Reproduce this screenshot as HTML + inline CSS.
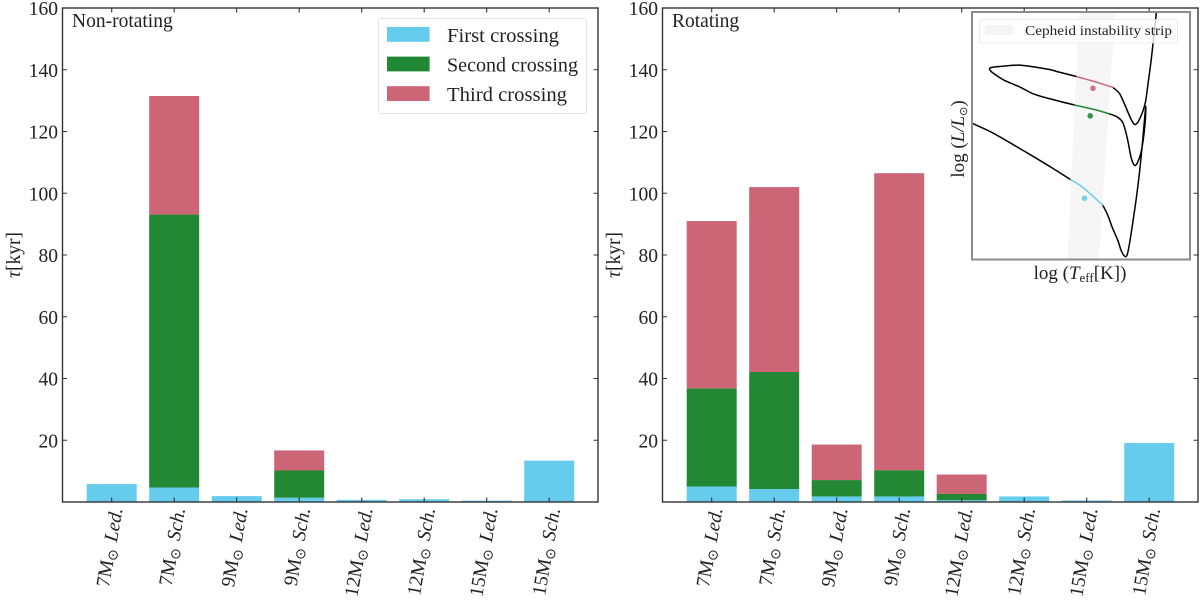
<!DOCTYPE html>
<html lang="en">
<head>
<meta charset="utf-8">
<title>Cepheid crossing timescales</title>
<style>
html,body{margin:0;padding:0;background:#fff;}
svg{display:block;}
text{font-family:"Liberation Serif","DejaVu Serif",serif;fill:#222;}
</style>
</head>
<body>
<svg id="chart" xmlns="http://www.w3.org/2000/svg" width="1200" height="600" viewBox="0 0 1200 600">
  <rect x="0" y="0" width="1200" height="600" fill="#fff"/>
  <g id="panel-left"></g>
  <g id="panel-right"></g>
  <g id="inset"></g>
</svg>
<script>
// ----- bar chart data (kyr) -----
const massLabels = ['7','7','9','9','12','12','15','15'];
const modelLabels = ['Led.','Sch.','Led.','Sch.','Led.','Sch.','Led.','Sch.'];
const yTickLabels = [20,40,60,80,100,120,140,160];
const nonRotFirst  = [5.8,4.7,1.9,1.4,0.7,0.9,0.45,13.4];
const nonRotSecond = [0,88.4,0,8.8,0,0,0,0];
const nonRotThird  = [0,38.4,0,6.5,0,0,0,0];
const rotFirst  = [5,4.2,1.8,1.8,0.6,1.8,0.5,19.1];
const rotSecond = [31.8,37.9,5.3,8.5,2,0,0,0];
const rotThird  = [54.2,59.9,11.5,96.2,6.3,0,0,0];
const legendLabels = ['First crossing','Second crossing','Third crossing'];

// ----- inset HR diagram data: [log Teff, log L] -----
const hrTrackPre = [[4.25,3.513],[4.186,3.438],[4.086,3.293],[4.016,3.188],[3.956,3.093]];
const hrFirstCrossing = [[3.956,3.093],[3.926,3.048],[3.891,2.973],[3.861,2.905]];
const hrTrackRgb = [[3.861,2.905],[3.846,2.83],[3.831,2.73],[3.816,2.643],[3.806,2.568],[3.796,2.525],[3.789,2.53],[3.781,2.618],[3.771,2.78],[3.761,2.955],[3.751,3.155],[3.743,3.355],[3.733,3.635],[3.735,3.505],[3.746,3.305],[3.758,3.218],[3.766,3.2],[3.776,3.255],[3.788,3.405],[3.801,3.518],[3.818,3.56],[3.843,3.585]];
const hrSecondCrossing = [[3.843,3.585],[3.886,3.615],[3.944,3.648]];
const hrTrackLoop = [[3.944,3.648],[4.016,3.693],[4.066,3.73],[4.106,3.78],[4.156,3.835],[4.181,3.875],[4.194,3.9],[4.198,3.918],[4.191,3.928],[4.156,3.938],[4.111,3.945],[4.061,3.93],[4.021,3.913],[3.986,3.89],[3.938,3.86]];
const hrThirdCrossing = [[3.938,3.86],[3.886,3.823],[3.831,3.78]];
const hrTrackAgb = [[3.831,3.78],[3.811,3.735],[3.796,3.655],[3.781,3.568],[3.771,3.518],[3.764,3.503],[3.754,3.53],[3.741,3.605],[3.733,3.68],[3.726,3.805],[3.718,3.955],[3.71,4.13],[3.701,4.34]];
const hrStripHot = [[3.931,4.34],[3.966,2.5]];
const hrStripCool = [[3.824,4.34],[3.872,2.5]];
const hrMeanFirst = [3.915,2.955];
const hrMeanSecond = [3.898,3.568];
const hrMeanThird = [3.89,3.773];

const BLUE = '#66CCEE', GREEN = '#228833', RED = '#CC6677', SPINE = '#333';
const NS = 'http://www.w3.org/2000/svg';

function make(tag, attrs, parent) {
  const e = document.createElementNS(NS, tag);
  for (const k in attrs) e.setAttribute(k, attrs[k]);
  parent.appendChild(e);
  return e;
}

const plotTop = 8, plotBottom = 502, plotWidth = 535.5, yMax = 160, step = 62.5, firstTickOffset = 49.2, barWidth = 50;
function yScale(v) { return plotBottom - (v / yMax) * (plotBottom - plotTop); }

function drawPanel(group, left, first, second, third, title) {
  const xScale = i => left + firstTickOffset + i * step;
  first.forEach((_, i) => {
    let base = 0;
    [[first[i], BLUE, 'first'], [second[i], GREEN, 'second'], [third[i], RED, 'third']].forEach(seg => {
      if (seg[0] <= 0) return;
      const r = make('rect', {x: xScale(i) - barWidth / 2, y: yScale(base + seg[0]), width: barWidth, height: yScale(base) - yScale(base + seg[0]), fill: seg[1]}, group);
      
      
      base += seg[0];
    });
  });

  const frame = make('rect', {x: left, y: plotTop, width: plotWidth, height: plotBottom - plotTop, fill: 'none', stroke: SPINE, 'stroke-width': 1.4}, group);
  
  

  yTickLabels.forEach(v => {
    const y = yScale(v);
    const tl = make('path', {d: 'M' + left + ' ' + y + 'h4.5M' + (left + plotWidth) + ' ' + y + 'h-4.5', stroke: SPINE, 'stroke-width': 1.1, fill: 'none'}, group);
    
    
    const t = make('text', {x: left - 4.5, y: y + 7, 'text-anchor': 'end', 'font-size': 19.5}, group);
    
    
    t.textContent = v;
  });

  massLabels.forEach((m, i) => {
    const x = xScale(i);
    const tk = make('path', {d: 'M' + x + ' ' + plotBottom + 'v-4.5M' + x + ' ' + plotTop + 'v4.5', stroke: SPINE, 'stroke-width': 1.1, fill: 'none'}, group);
    
    
    const t = make('text', {transform: 'translate(' + (x + 11) + ' 509) rotate(-80)', 'text-anchor': 'end', 'font-size': 19.5}, group);
    
    
    const a = make('tspan', {}, t);
    a.textContent = m + 'M';
    const b = make('tspan', {'font-size': 14, dy: 3, 'font-family': '"DejaVu Sans",sans-serif'}, t);
    b.textContent = '\u2299';
    const c = make('tspan', {dy: -3, dx: 7, 'font-style': 'italic'}, t);
    c.textContent = modelLabels[i];
  });

  const yl = make('text', {transform: 'translate(' + (left - 42.5) + ' 255) rotate(-90)', 'text-anchor': 'middle', 'font-size': 19.5}, group);
  
  
  const tau = make('tspan', {'font-style': 'italic'}, yl);
  tau.textContent = '\u03C4';
  const unit = make('tspan', {}, yl);
  unit.textContent = '[kyr]';

  const tt = make('text', {x: left + 9.5, y: 27, 'font-size': 19.5}, group);
  
  
  tt.textContent = title;
}

const leftPanel = document.getElementById('panel-left');
const rightPanel = document.getElementById('panel-right');
drawPanel(leftPanel, 62.5, nonRotFirst, nonRotSecond, nonRotThird, 'Non-rotating');
drawPanel(rightPanel, 662.5, rotFirst, rotSecond, rotThird, 'Rotating');

// ----- legend -----
const legendBox = make('rect', {x: 378.5, y: 18.5, width: 208, height: 95, rx: 2.5, fill: '#fff', stroke: '#e2e2e2', 'stroke-width': 1}, leftPanel);


[BLUE, GREEN, RED].forEach((col, i) => {
  const p = make('rect', {x: 387, y: 27 + i * 29.6, width: 42.6, height: 14.8, fill: col}, leftPanel);
  
  
  const t = make('text', {x: 447, y: 42 + i * 29.6, 'font-size': 19.5, textLength: [112, 131, 120][i], lengthAdjust: 'spacingAndGlyphs'}, leftPanel);
  
  
  t.textContent = legendLabels[i];
});

// ----- inset -----
const inset = document.getElementById('inset');
const insetL = 972, insetR = 1190, insetT = 12, insetB = 259.5;
const tHot = 4.25, tCool = 3.601, lLow = 2.5, lHigh = 4.34;
function hx(t) { return insetL + (tHot - t) / (tHot - tCool) * (insetR - insetL); }
function hy(l) { return insetB - (l - lLow) / (lHigh - lLow) * (insetB - insetT); }
function pathOf(points) { return points.map((p, i) => (i ? 'L' : 'M') + hx(p[0]).toFixed(1) + ' ' + hy(p[1]).toFixed(1)).join(''); }
function smoothPathOf(points) {
  const pts = points.map(p => [hx(p[0]), hy(p[1])]);
  let d = 'M' + pts[0][0].toFixed(1) + ' ' + pts[0][1].toFixed(1);
  for (let i = 0; i < pts.length - 1; i++) {
    const p0 = pts[Math.max(i - 1, 0)], p1 = pts[i], p2 = pts[i + 1], p3 = pts[Math.min(i + 2, pts.length - 1)];
    d += 'C' + (p1[0] + (p2[0] - p0[0]) / 7).toFixed(1) + ' ' + (p1[1] + (p2[1] - p0[1]) / 7).toFixed(1) + ' ' +
         (p2[0] - (p3[0] - p1[0]) / 7).toFixed(1) + ' ' + (p2[1] - (p3[1] - p1[1]) / 7).toFixed(1) + ' ' +
         p2[0].toFixed(1) + ' ' + p2[1].toFixed(1);
  }
  return d;
}

const insetBg = make('rect', {x: insetL, y: insetT, width: insetR - insetL, height: insetB - insetT, fill: '#fff'}, inset);



const strip = make('path', {d: pathOf([hrStripHot[0], hrStripCool[0], hrStripCool[1], hrStripHot[1]]) + 'Z', fill: '#f6f6f6'}, inset);



[[hrTrackPre, '#000', 'track-pre'], [hrTrackRgb, '#000', 'track-giant-branch'], [hrTrackLoop, '#000', 'track-blue-loop'], [hrTrackAgb, '#000', 'track-late'], [hrFirstCrossing, BLUE, 'first-crossing-segment'], [hrSecondCrossing, GREEN, 'second-crossing-segment'], [hrThirdCrossing, RED, 'third-crossing-segment']].forEach(s => {
  const l = make('path', {d: smoothPathOf(s[0]), fill: 'none', stroke: s[1], 'stroke-width': 1.5, 'stroke-linejoin': 'round', 'stroke-linecap': 'round'}, inset);
  
  
});

[[hrMeanFirst, BLUE, 'first-crossing-dot'], [hrMeanSecond, GREEN, 'second-crossing-dot'], [hrMeanThird, RED, 'third-crossing-dot']].forEach(s => {
  const c = make('circle', {cx: hx(s[0][0]), cy: hy(s[0][1]), r: 2.8, fill: s[1], 'fill-opacity': 0.9}, inset);
  
  
});

const insetLegend = make('rect', {x: 979.5, y: 19.5, width: 198, height: 23.5, rx: 1.5, fill: '#fff', 'fill-opacity': 0.8, stroke: '#e8e8e8', 'stroke-width': 0.8}, inset);


const insetSwatch = make('rect', {x: 984.5, y: 25, width: 28.5, height: 10, fill: '#f4f4f4'}, inset);


const insetLegendText = make('text', {x: 1025, y: 35, 'font-size': 14, textLength: 147, lengthAdjust: 'spacingAndGlyphs', fill: '#333'}, inset);


insetLegendText.textContent = 'Cepheid instability strip';

const insetFrame = make('rect', {x: insetL, y: insetT, width: insetR - insetL, height: insetB - insetT, fill: 'none', stroke: '#8c8c8c', 'stroke-width': 2}, inset);



const insetX = make('text', {x: 1080, y: 279, 'text-anchor': 'middle', 'font-size': 19}, inset);


const ix1 = make('tspan', {}, insetX);
ix1.textContent = 'log (';
const ix2 = make('tspan', {'font-style': 'italic'}, insetX);
ix2.textContent = 'T';
const ix3 = make('tspan', {'font-size': 13, dy: 3}, insetX);
ix3.textContent = 'eff';
const ix4 = make('tspan', {dy: -3}, insetX);
ix4.textContent = '[K])';

const insetY = make('text', {transform: 'translate(964 139) rotate(-90)', 'text-anchor': 'middle', 'font-size': 19}, inset);


const iy1 = make('tspan', {}, insetY);
iy1.textContent = 'log (';
const iy2 = make('tspan', {'font-style': 'italic'}, insetY);
iy2.textContent = 'L/L';
const iy3 = make('tspan', {'font-size': 11, dy: 3, 'font-family': '"DejaVu Sans",sans-serif'}, insetY);
iy3.textContent = '\u2299';
const iy4 = make('tspan', {dy: -3}, insetY);
iy4.textContent = ')';
</script>
</body>
</html>
